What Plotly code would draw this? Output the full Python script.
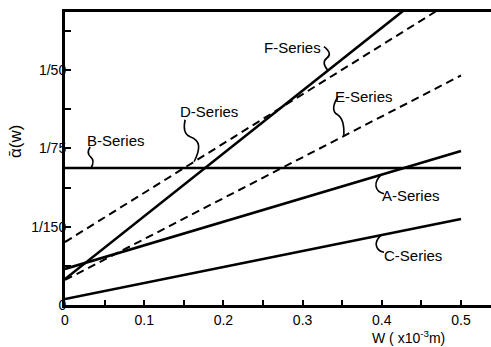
import numpy as np
import plotly.graph_objects as go

# ---- data -------------------------------------------------------------
w_ends = [0.0, 0.5]                       # W (x10^-3 m)
series_names = ["A-Series", "B-Series", "C-Series", "D-Series", "E-Series", "F-Series"]
alpha_A = [0.00307, 0.01311]
alpha_B = [0.01167, 0.01167]
alpha_C = [0.00051, 0.00732]
alpha_D = [0.00536, 0.02633]
alpha_E = [0.00213, 0.01954]
alpha_F = [0.00221, 0.02895]

x_tick_vals = [0.0, 0.05, 0.1, 0.15, 0.2, 0.25, 0.3, 0.35, 0.4, 0.45, 0.5]
x_tick_text = ["0", "", "0.1", "", "0.2", "", "0.3", "", "0.4", "", "0.5"]
y_tick_vals = [0, 1 / 300, 1 / 150, 1 / 100, 1 / 75, 1 / 60, 1 / 50, 7 / 300]
y_tick_text = ["0", "", "1/150", "", "1/75", "", "1/50", ""]

series_alpha = dict(zip(series_names, [alpha_A, alpha_B, alpha_C, alpha_D, alpha_E, alpha_F]))

# ---- styling / label placement ---------------------------------------
FONT = "Liberation Sans, Arial, sans-serif"
dash_style = {"D-Series": "dash", "E-Series": "dash"}

# where each leader touches its line (W value), leader shape (screen px,
# y downward, relative to that point) and label offset (screen px)
label_cfg = {
    "A-Series": dict(w=0.399, pts=[(0, 0), (-6, 6), (-4, 17), (3, 19)], off=(30, 21)),
    "B-Series": dict(w=0.033, pts=[(0, 0), (4, -7), (-5, -15), (-1, -21)], off=(25, -27)),
    "C-Series": dict(w=0.399, pts=[(0, 0), (-6, 6), (-3, 16), (3, 17)], off=(32, 20)),
    "D-Series": dict(w=0.163, pts=[(0, 0), (5, -10), (4, -22), (-12, -28), (-9, -42)], off=(15, -50)),
    "E-Series": dict(w=0.352, pts=[(0, 0), (1, -17), (-14, -26), (-6, -39)], off=(20, -40)),
    "F-Series": dict(w=0.332, pts=[(0, 0), (-7, -8), (5, -17), (-4, -24)], off=(-35, -23)),
}


def leader_path(pts):
    """Smooth wavy leader through control points (pixel offsets, y up)."""
    p = [(x, -y) for x, y in pts]
    d = f"M{p[0][0]},{p[0][1]}"
    for i in range(1, len(p) - 1):
        if i < len(p) - 2:
            mx = (p[i][0] + p[i + 1][0]) / 2
            my = (p[i][1] + p[i + 1][1]) / 2
            d += f" Q{p[i][0]},{p[i][1]} {mx},{my}"
        else:
            d += f" Q{p[i][0]},{p[i][1]} {p[i + 1][0]},{p[i + 1][1]}"
    return d


fig = go.Figure()

for name in series_names:
    fig.add_trace(go.Scatter(
        x=w_ends, y=series_alpha[name], mode="lines", name=name,
        line=dict(color="black", width=2.6 if name not in dash_style else 2,
                  dash="solid" if name not in dash_style else "8px,5px"),
        showlegend=False, hoverinfo="skip",
    ))

shapes = []
annotations = []
for name in series_names:
    cfg = label_cfg[name]
    ya = float(np.interp(cfg["w"], w_ends, series_alpha[name]))
    shapes.append(dict(
        type="path", xref="x", yref="y", xsizemode="pixel", ysizemode="pixel",
        xanchor=cfg["w"], yanchor=ya, path=leader_path(cfg["pts"]),
        line=dict(color="black", width=1.6),
    ))
    annotations.append(dict(
        x=cfg["w"], y=ya, xref="x", yref="y", text=name, showarrow=False,
        xshift=cfg["off"][0], yshift=-cfg["off"][1], xanchor="center", yanchor="middle",
        font=dict(family=FONT, size=15, color="black"),
    ))

W, H = 491, 347
ML, MR, MT, MB = 65, 0, 12, 42
pw, ph = W - ML - MR, H - MT - MB


def title_at(px, py, text, size, angle=0):
    # axis titles placed by page pixel position
    return dict(
        x=(px - ML) / pw, y=(H - MB - py) / ph, xref="paper", yref="paper",
        text=text, showarrow=False, textangle=angle,
        xanchor="center", yanchor="middle",
        font=dict(family=FONT, size=size, color="black"),
    )


annotations.append(title_at(408, 337, "W ( x10<sup>-3</sup>m)", 14))
annotations.append(title_at(15, 142, "ᾱ(w)", 17, angle=-90))

fig.update_layout(
    width=W, height=H,
    margin=dict(l=ML, r=MR, t=MT, b=MB, pad=0),
    paper_bgcolor="white", plot_bgcolor="white",
    shapes=shapes, annotations=annotations,
    xaxis=dict(
        range=[0, pw / 792.0], tickvals=x_tick_vals, ticktext=x_tick_text,
        ticks="inside", ticklen=5, tickwidth=2, tickcolor="black",
        showline=True, linewidth=3, linecolor="black", mirror=True,
        showgrid=False, zeroline=False,
        tickfont=dict(family=FONT, size=14, color="black"),
        ticklabelstandoff=0,
    ),
    yaxis=dict(
        range=[0, ph / 78.3 / 150.0], tickvals=y_tick_vals, ticktext=y_tick_text,
        ticks="inside", ticklen=6, tickwidth=2, tickcolor="black",
        showline=True, linewidth=3, linecolor="black",
        showgrid=False, zeroline=False,
        tickfont=dict(family=FONT, size=14, color="black"),
        ticklabelstandoff=-7,
    ),
)

fig.write_html("out.html")
